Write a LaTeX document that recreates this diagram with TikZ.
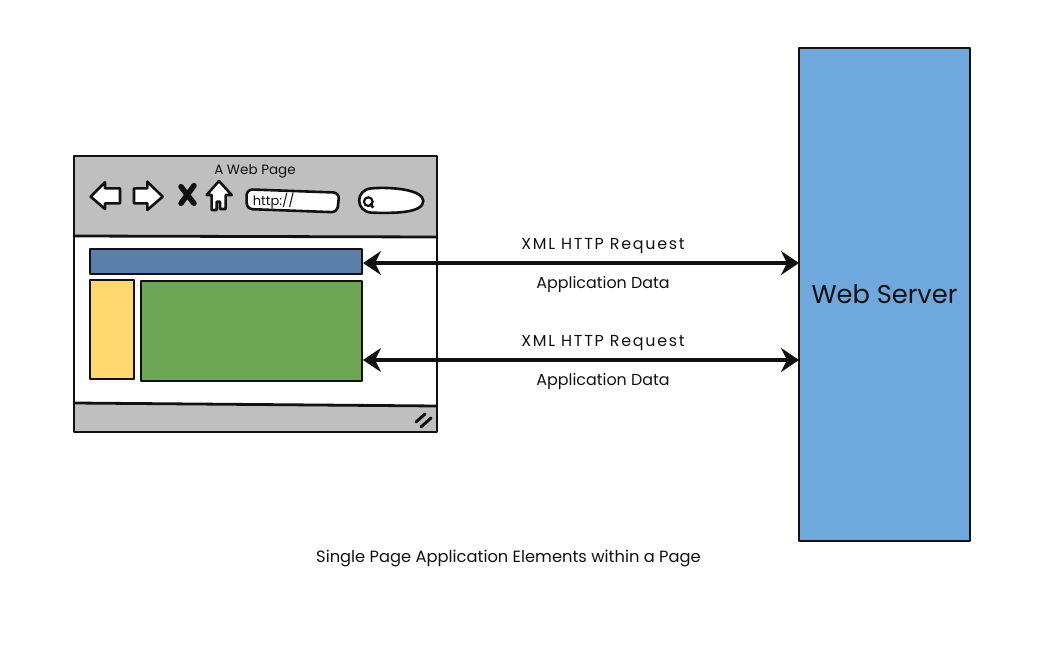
\documentclass[tikz,border=0pt]{standalone}
\usepackage{fontspec}
\setmainfont{Poppins}
\newfontfamily\widefont[LetterSpace=11]{Poppins}
\usetikzlibrary{arrows.meta,calc}
\definecolor{chrome}{HTML}{BFBFBF}
\definecolor{barblue}{HTML}{5B7FAB}
\definecolor{sideyellow}{HTML}{FFD76E}
\definecolor{maingreen}{HTML}{6DA756}
\definecolor{serverblue}{HTML}{6FA8DC}
\definecolor{ink}{HTML}{111111}
\tikzset{
  sketch/.style={draw=ink,line width=2.8pt,line join=round,line cap=round},
  thin sketch/.style={draw=ink,line width=2.6pt,line join=round,line cap=round},
  panel/.style={thin sketch,rectangle,inner sep=0pt,outer sep=0pt,anchor=north west},
  icon/.style={draw=ink,fill=white,line width=2.6pt,line join=round,line cap=round},
  label/.style={font=\fontsize{15.9}{18}\selectfont,text=ink,inner sep=0pt},
  request/.style={font=\widefont\fontsize{15.9}{18}\selectfont,text=ink,inner sep=0pt},
  link/.style={draw=ink,line width=3.6pt,{Stealth[length=18pt,width=24pt,inset=6pt]}-{Stealth[length=18pt,width=24pt,inset=6pt]}}
}
\begin{document}
\begin{tikzpicture}[x=1pt,y=-1pt]
\useasboundingbox (0,0) rectangle (1062,650);
% window
\fill[white] (74,156) rectangle (437,432);
\fill[chrome] (74,156) -- (437,156) -- (437,237) -- (74,236) -- cycle;
\fill[chrome] (74,403) -- (437,406) -- (437,432) -- (74,432) -- cycle;
\draw[sketch] (74,236) -- (437,237);
\draw[sketch] (74,403) -- (437,406);
\draw[sketch] (74,156) -- (437,156) -- (437,432) -- (74,432) -- cycle;
\node[inner sep=0pt,text=ink,font=\fontsize{13.5}{15}\selectfont] (title) at (255,171.5) {A Web Page};
% toolbar icons, in zoomed units
\begin{scope}[shift={(60,145)},x=.3333pt,y=-.3333pt]
  \draw[icon] (92,155) -- (135,112) -- (135,130) -- (180,130) -- (180,175) -- (135,175) -- (135,192) -- cycle;
  \draw[icon] (222,130) -- (262,130) -- (262,110) -- (308,155) -- (262,195) -- (262,175) -- (222,175) -- cycle;
  \draw[draw=ink,line width=5.5pt,line cap=round] (363,125) -- (402,175) (402,122) -- (363,175);
  \draw[icon] (477,108) -- (515,150) -- (497,150) -- (497,192) -- (480,192) -- (480,170) -- (470,170) -- (470,195) -- (455,195) -- (455,150) -- (440,150) -- cycle;
  \draw[icon,rounded corners=6pt] (560,133) -- (838,143) -- (832,202) -- (560,192) -- cycle;
  \node[anchor=west,font=\fontsize{13}{15}\selectfont,text=ink,inner sep=0pt] (url) at (578,168) {http://};
  \draw[icon] (935,130) .. controls (1000,125) and (1090,135) .. (1090,168) .. controls (1090,205) and (1000,205) .. (935,203) .. controls (885,200) and (885,133) .. (935,130) -- cycle;
  \draw[draw=ink,line width=2.2pt] (925,170) circle (13);
  \draw[draw=ink,line width=2.6pt] (930,176) -- (940,188);
\end{scope}
% resize grip
\draw[draw=ink,line width=3pt,line cap=round] (416,422) -- (425,414) (421,427) -- (431,418);
% content panels
\node[panel,fill=barblue,minimum width=272pt,minimum height=25pt] (bar) at (90,249) {};
\node[panel,fill=sideyellow,minimum width=44pt,minimum height=99pt] (side) at (90,280) {};
\node[panel,fill=maingreen,minimum width=221pt,minimum height=100pt] (main) at (141,281) {};
% server
\node[thin sketch,rectangle,fill=serverblue,minimum width=171pt,minimum height=493pt,inner sep=0pt,outer sep=0pt,anchor=north west,font=\fontsize{25.7}{28}\selectfont,text=ink] (server) at (799,48) {Web Server};
% connectors
\coordinate (left1) at (363,263);
\coordinate (left2) at (363,360);
\coordinate (right1) at (server.west |- left1);
\coordinate (right2) at (server.west |- left2);
\draw[link] (left1) -- (right1);
\draw[link] (left2) -- (right2);
\node[request] (req1) at (603,246) {XML HTTP Request};
\node[label] (data1) at (603,285) {Application Data};
\node[request] (req2) at (603,343) {XML HTTP Request};
\node[label] (data2) at (603,382) {Application Data};
\node[label,font=\fontsize{16.3}{18}\selectfont] (caption) at (508.5,558) {Single Page Application Elements within a Page};
\end{tikzpicture}
\end{document}
